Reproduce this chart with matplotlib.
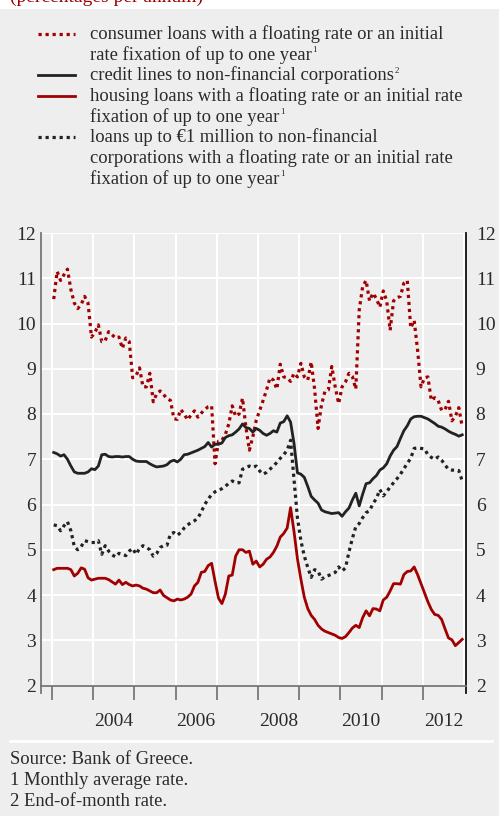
import matplotlib
matplotlib.use("Agg")
import matplotlib.pyplot as plt
from matplotlib.lines import Line2D
from matplotlib.patches import Rectangle
import numpy as np
import pandas as pd

plt.rcParams['font.family'] = ['Liberation Serif', 'DejaVu Serif']

# ---------------- data (monthly, Jan 2003 - Dec 2012) ----------------
months = pd.period_range('2003-01', '2012-12', freq='M')

consumer = [10.54, 11.15, 10.95, 11.08, 11.2, 10.75, 10.45, 10.33, 10.42, 10.6, 10.45, 9.7,
            9.8, 9.97, 9.6, 9.62, 9.82, 9.75, 9.68, 9.7, 9.45, 9.68, 9.6, 8.8,
            8.85, 9.02, 8.6, 8.6, 8.9, 8.27, 8.45, 8.51, 8.43, 8.34, 8.3, 7.9,
            7.88, 8.1, 8.0, 7.87, 7.98, 8.07, 7.93, 8.02, 8.1, 8.16, 8.18, 6.9,
            7.4, 7.42, 7.55, 7.78, 8.18, 7.95, 8.0, 8.35, 7.7, 7.2, 7.5, 7.86,
            8.08, 8.3, 8.53, 8.8, 8.75, 8.55, 9.1, 8.82, 8.8, 8.72, 8.9, 8.82,
            9.12, 8.82, 8.75, 9.15, 8.55, 7.68, 8.2, 8.5, 8.53, 9.05, 8.6, 8.23,
            8.6, 8.71, 8.9, 8.83, 8.55, 10.3, 10.82, 10.95, 10.5, 10.67, 10.55, 10.36,
            10.72, 10.5, 9.85, 10.5, 10.57, 10.6, 10.89, 10.95, 9.9, 10.07, 9.41, 8.6,
            8.8, 8.82, 8.3, 8.36, 8.3, 8.08, 8.1, 8.28, 7.85, 7.95, 8.14, 7.72]

credit_lines = [7.15, 7.12, 7.07, 7.1, 7.0, 6.85, 6.72, 6.69, 6.69, 6.69, 6.72, 6.79,
                6.77, 6.85, 7.1, 7.11, 7.06, 7.05, 7.06, 7.06, 7.05, 7.06, 7.06, 7.0,
                6.96, 6.95, 6.95, 6.95, 6.9, 6.86, 6.83, 6.84, 6.85, 6.88, 6.95, 6.98,
                6.94, 7.0, 7.1, 7.11, 7.14, 7.17, 7.2, 7.24, 7.28, 7.37, 7.27, 7.33,
                7.33, 7.36, 7.48, 7.52, 7.54, 7.6, 7.67, 7.78, 7.7, 7.68, 7.6, 7.68,
                7.64, 7.57, 7.53, 7.57, 7.63, 7.6, 7.8, 7.83, 7.96, 7.82, 7.35, 6.7,
                6.67, 6.6, 6.4, 6.18, 6.1, 6.03, 5.88, 5.84, 5.82, 5.8, 5.81, 5.82,
                5.74, 5.84, 5.92, 6.1, 6.25, 5.97, 6.23, 6.46, 6.48, 6.57, 6.64, 6.76,
                6.81, 6.9, 7.07, 7.2, 7.28, 7.46, 7.63, 7.74, 7.89, 7.94, 7.95, 7.95,
                7.92, 7.89, 7.84, 7.79, 7.73, 7.71, 7.67, 7.62, 7.58, 7.55, 7.51, 7.54]

housing = [4.56, 4.59, 4.59, 4.59, 4.59, 4.56, 4.42, 4.48, 4.6, 4.57, 4.38, 4.33,
           4.35, 4.37, 4.37, 4.37, 4.34, 4.29, 4.24, 4.33, 4.23, 4.28, 4.23, 4.2,
           4.22, 4.2, 4.15, 4.13, 4.09, 4.05, 4.05, 4.11, 3.99, 3.94, 3.89, 3.87,
           3.91, 3.89, 3.91, 3.95, 4.02, 4.2, 4.28, 4.5, 4.52, 4.65, 4.7, 4.3,
           3.93, 3.81, 4.02, 4.42, 4.44, 4.86, 5.0, 5.0, 4.94, 4.97, 4.68, 4.75,
           4.62, 4.68, 4.79, 4.84, 4.94, 5.08, 5.28, 5.36, 5.48, 5.93, 5.4, 4.8,
           4.35, 3.95, 3.7, 3.55, 3.46, 3.33, 3.25, 3.2, 3.17, 3.14, 3.11, 3.06,
           3.04, 3.08, 3.17, 3.27, 3.33, 3.28, 3.5, 3.65, 3.54, 3.7, 3.69, 3.65,
           3.89, 3.95, 4.09, 4.25, 4.25, 4.24, 4.45, 4.52, 4.53, 4.62, 4.45, 4.25,
           4.05, 3.85, 3.68, 3.57, 3.55, 3.46, 3.25, 3.05, 3.01, 2.88, 2.95, 3.02]

small_loans = [5.55, 5.53, 5.42, 5.53, 5.62, 5.42, 5.07, 5.0, 5.07, 5.2, 5.18, 5.16,
               5.16, 5.2, 4.9, 5.09, 4.97, 4.89, 4.84, 4.92, 4.9, 4.87, 4.97, 5.03,
               4.9, 5.03, 5.09, 5.05, 5.0, 4.86, 4.92, 5.05, 5.09, 5.1, 5.35, 5.38,
               5.32, 5.38, 5.48, 5.55, 5.6, 5.64, 5.7, 5.84, 6.0, 6.12, 6.22, 6.28,
               6.31, 6.35, 6.4, 6.47, 6.52, 6.48, 6.48, 6.78, 6.82, 6.85, 6.82, 6.85,
               6.74, 6.67, 6.71, 6.78, 6.85, 6.93, 7.02, 7.1, 7.2, 7.42, 6.55, 5.71,
               5.2, 4.86, 4.61, 4.39, 4.56, 4.53, 4.35, 4.4, 4.43, 4.46, 4.5, 4.62,
               4.53, 4.6, 4.95, 5.25, 5.51, 5.58, 5.71, 5.82, 5.86, 6.02, 6.13, 6.33,
               6.19, 6.28, 6.39, 6.48, 6.57, 6.67, 6.79, 6.91, 7.02, 7.24, 7.25, 7.24,
               7.23, 7.1, 7.04, 7.0, 7.05, 6.98, 6.87, 6.78, 6.76, 6.76, 6.75, 6.52]

year_ticks = list(range(2003, 2014))
year_labels = ['2004', '2006', '2008', '2010', '2012']
y_ticks = list(range(2, 13))

# each legend entry: list of (line text, superscript)
legend_items = [
    ([("consumer loans with a floating rate or an initial", ""),
      ("rate fixation of up to one year", "1")], 'red', 'dot'),
    ([("credit lines to non-financial corporations", "2")], 'black', 'solid'),
    ([("housing loans with a floating rate or an initial rate", ""),
      ("fixation of up to one year", "1")], 'red', 'solid'),
    ([("loans up to €1 million to non-financial", ""),
      ("corporations with a floating rate or an initial rate", ""),
      ("fixation of up to one year", "1")], 'black', 'dot'),
]
footer_lines = ["Source: Bank of Greece.", "1 Monthly average rate.", "2 End-of-month rate."]

# ---------------- styling ----------------
W, H = 499, 816
BG = '#eeeeee'
RED = '#a00000'
BLACK = '#222222'
TXT = '#2a2a2a'
DOT = (0, (1, 1.2))
FS = 13.4

fig = plt.figure(figsize=(W / 100, H / 100), dpi=100, facecolor=BG)
renderer = fig.canvas.get_renderer()

def fx(x):
    return x / W

def fy(y):
    return 1 - y / H

# white top band and title (cut off at the top, as in the source)
fig.add_artist(Rectangle((0, fy(9)), 1, 9 / H, transform=fig.transFigure,
                         facecolor='white', edgecolor='none', zorder=0))
fig.text(fx(10), fy(1.5), "(percentages per annum)", color=RED, fontsize=14,
         ha='left', va='baseline')

# legend (manual)
line_h = 20.7
y0 = 33.5
for lines, col, sty in legend_items:
    c = RED if col == 'red' else BLACK
    ls = DOT if sty == 'dot' else '-'
    lw = 2.3 if sty == 'dot' else 2.0
    fig.add_artist(Line2D([fx(38), fx(75)], [fy(y0), fy(y0)], transform=fig.transFigure,
                          color=c, lw=lw, linestyle=ls))
    for k, (txt, sup) in enumerate(lines):
        yb = y0 + 5.5 + k * line_h
        t = fig.text(fx(90), fy(yb), txt, fontsize=FS, color=TXT, ha='left', va='baseline')
        if sup:
            bb = t.get_window_extent(renderer=renderer)
            fig.text(bb.x1 / W + 0.5 / W, fy(yb - 7.5), sup, fontsize=6.5, color=TXT,
                     ha='left', va='baseline')
    y0 += len(lines) * line_h

# ---------------- axes ----------------
ax_left, ax_right, ax_top, ax_bot = 41, 466, 233, 685.5
ax = fig.add_axes([fx(ax_left), fy(ax_bot), (ax_right - ax_left) / W, (ax_bot - ax_top) / H])
ax.set_facecolor(BG)

x = np.array([p.year + (p.month - 0.5) / 12 for p in months])

ax.plot(x, consumer, color=RED, lw=2.3, linestyle=DOT, zorder=3)
ax.plot(x, credit_lines, color=BLACK, lw=2.0, zorder=3)
ax.plot(x, housing, color=RED, lw=2.0, zorder=3)
ax.plot(x, small_loans, color=BLACK, lw=2.3, linestyle=DOT, zorder=3)

ax.set_xlim(2002.733, 2013.05)
ax.set_ylim(2, 12)

for yv in y_ticks:
    ax.axhline(yv, color='white', lw=1.5, zorder=1)
for xv in year_ticks:
    ax.axvline(xv, color='white', lw=1.5, zorder=1)

ax.spines['top'].set_visible(False)
ax.spines['left'].set_color('#777777')
ax.spines['left'].set_linewidth(1.3)
ax.spines['bottom'].set_color('#777777')
ax.spines['bottom'].set_linewidth(1.3)
ax.spines['right'].set_color('#111111')
ax.spines['right'].set_linewidth(1.3)

# small end ticks at the two ends of the x axis
for xa, colr in [(0, '#777777'), (1, '#111111')]:
    ax.add_artist(Line2D([xa, xa], [0, -7 / (ax_bot - ax_top)], transform=ax.transAxes,
                         color=colr, lw=1.3, clip_on=False))

ax.set_xticks(year_ticks[:-1])
ax.set_xticklabels([])
ax.tick_params(axis='x', which='major', direction='out', length=10, width=1.3, color='#777777')
ax.set_xticks([int(l) + 0.5 for l in year_labels], minor=True)
ax.set_xticklabels(year_labels, minor=True)
ax.tick_params(axis='x', which='minor', length=0, pad=20, labelsize=14, labelcolor=TXT)

ax.set_yticks(y_ticks)
ax.set_yticklabels([str(v) for v in y_ticks])
ax.tick_params(axis='y', which='both', length=0, pad=3.5, labelsize=14, labelcolor=TXT)

ax2 = ax.twinx()
ax2.set_ylim(2, 12)
ax2.set_yticks(y_ticks)
ax2.set_yticklabels([str(v) for v in y_ticks])
ax2.tick_params(axis='y', length=0, pad=7, labelsize=14, labelcolor=TXT)
for s in ['top', 'left', 'bottom', 'right']:
    ax2.spines[s].set_visible(False)

# footer
fig.add_artist(Line2D([fx(10), fx(492)], [fy(741), fy(741)], transform=fig.transFigure,
                      color='white', lw=2))
for k, t in enumerate(footer_lines):
    fig.text(fx(10), fy(764.5 + 20.5 * k), t, fontsize=FS, color=TXT, ha='left', va='baseline')

fig.savefig('out.png', dpi=100, facecolor=BG)
